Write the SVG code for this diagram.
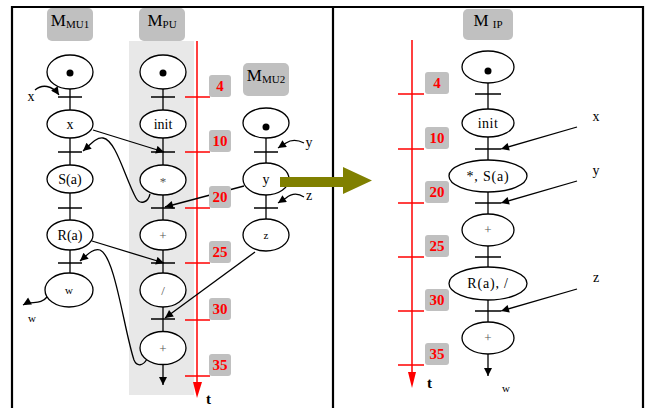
<svg xmlns="http://www.w3.org/2000/svg" width="652" height="408" viewBox="0 0 652 408">
<defs>
<marker id="ah" viewBox="0 0 10 10" refX="10" refY="5" markerWidth="10" markerHeight="8" markerUnits="userSpaceOnUse" orient="auto"><path d="M0,0 L10,5 L0,10 z" fill="#000"/></marker>
<style>
.el{fill:#fff;stroke:#000;stroke-width:1.3}
.ln{stroke:#000;stroke-width:1.3;fill:none}
.bar{stroke:#000;stroke-width:1.5}
.lab{font-family:"Liberation Serif",serif;font-size:14px;fill:#000;text-anchor:middle}
.op{font-family:"Liberation Serif",serif;font-size:13px;fill:#555;text-anchor:middle}
.sm{font-family:"Liberation Serif",serif;font-size:11px;fill:#000;text-anchor:middle}
.hd{fill:#c0c0c0}
.ml{font-family:"Liberation Serif",serif;font-size:17px;fill:#000;text-anchor:middle}
.num{font-family:"Liberation Serif",serif;font-size:15px;font-weight:bold;fill:#f00;text-anchor:middle}
.red{stroke:#f00;stroke-width:1.5}
.tt{font-family:"Liberation Serif",serif;font-size:15px;font-weight:bold;fill:#000}
.frame{stroke:#000;stroke-width:2.2}
</style>
</defs>
<rect width="652" height="408" fill="#fff"/>
<rect x="129" y="41" width="65" height="354" fill="#e8e8e8"/>
<g id="frame">
<line class="frame" x1="12" y1="7" x2="644" y2="7"/>
<line class="frame" x1="12" y1="6" x2="12" y2="408"/>
<line class="frame" x1="333" y1="6" x2="333" y2="408"/>
<line class="frame" x1="643" y1="6" x2="643" y2="408"/>
</g>
<g id="timeline-left">
<line class="red" x1="197" y1="41" x2="197" y2="385"/>
<path d="M193,382 L202,382 L197,398 z" fill="#f00"/>
<line class="red" x1="185" y1="97" x2="210" y2="97"/>
<line class="red" x1="185" y1="152" x2="210" y2="152"/>
<line class="red" x1="185" y1="208" x2="210" y2="208"/>
<line class="red" x1="185" y1="263" x2="210" y2="263"/>
<line class="red" x1="185" y1="320" x2="210" y2="320"/>
<line class="red" x1="185" y1="376" x2="210" y2="376"/>
<text class="tt" x="206" y="404">t</text>
</g>
<g id="timeline-right">
<line class="red" x1="412" y1="40" x2="412" y2="375"/>
<path d="M408,372 L416,372 L412,388 z" fill="#f00"/>
<line class="red" x1="398" y1="94" x2="424" y2="94"/>
<line class="red" x1="398" y1="149" x2="424" y2="149"/>
<line class="red" x1="398" y1="203" x2="424" y2="203"/>
<line class="red" x1="398" y1="257" x2="424" y2="257"/>
<line class="red" x1="398" y1="311" x2="424" y2="311"/>
<line class="red" x1="398" y1="365" x2="424" y2="365"/>
<text class="tt" x="427" y="388">t</text>
</g>
<g id="connectors">
<line class="ln" x1="70" y1="89" x2="70" y2="110"/>
<line class="ln" x1="70" y1="138" x2="70" y2="165"/>
<line class="ln" x1="70" y1="193" x2="70" y2="220"/>
<line class="ln" x1="70" y1="250" x2="70" y2="273"/>
<line class="bar" x1="58" y1="97" x2="82" y2="97"/>
<line class="bar" x1="58" y1="152" x2="82" y2="152"/>
<line class="bar" x1="58" y1="208" x2="82" y2="208"/>
<line class="bar" x1="58" y1="263" x2="82" y2="263"/>
<line class="ln" x1="163" y1="89" x2="163" y2="110"/>
<line class="ln" x1="163" y1="138" x2="163" y2="165"/>
<line class="ln" x1="163" y1="195" x2="163" y2="220"/>
<line class="ln" x1="163" y1="250" x2="163" y2="273"/>
<line class="ln" x1="163" y1="307" x2="163" y2="332"/>
<line class="ln" x1="163" y1="365" x2="163" y2="385" marker-end="url(#ah)"/>
<line class="bar" x1="151" y1="97" x2="175" y2="97"/>
<line class="bar" x1="151" y1="152" x2="175" y2="152"/>
<line class="bar" x1="151" y1="208" x2="175" y2="208"/>
<line class="bar" x1="151" y1="263" x2="175" y2="263"/>
<line class="bar" x1="151" y1="319" x2="175" y2="319"/>
<line class="ln" x1="266" y1="138" x2="266" y2="163"/>
<line class="ln" x1="266" y1="195" x2="266" y2="219"/>
<line class="bar" x1="254" y1="152" x2="278" y2="152"/>
<line class="bar" x1="254" y1="208" x2="278" y2="208"/>
<line class="ln" x1="93" y1="130" x2="164" y2="152" marker-end="url(#ah)"/>
<line class="ln" x1="92" y1="241" x2="164" y2="263" marker-end="url(#ah)"/>
<line class="ln" x1="244" y1="186" x2="165" y2="207" marker-end="url(#ah)"/>
<line class="ln" x1="255" y1="252" x2="165" y2="318" marker-end="url(#ah)"/>
<path class="ln" d="M150,194 C148,203 140,205 136,198 C125,178 116,140 103,138 C96,137 90,145 83,151" marker-end="url(#ah)"/>
<path class="ln" d="M147,359 C143,366 137,367 134,360 C124,330 115,256 100,250 C93,248 87,255 80,261" marker-end="url(#ah)"/>
<path class="ln" d="M35,90 C42,84 52,85 59,95" marker-end="url(#ah)"/>
<path class="ln" d="M48,296 C40,306 32,300 23,305" marker-end="url(#ah)"/>
<path class="ln" d="M304,143 C298,140 292,139 286,143 C283,145 281,146 278,148" marker-end="url(#ah)"/>
<path class="ln" d="M304,197 C298,193 292,193 286,198 C283,200 281,201 278,203" marker-end="url(#ah)"/>
<line class="ln" x1="488" y1="83" x2="488" y2="109"/>
<line class="ln" x1="488" y1="137" x2="488" y2="160"/>
<line class="ln" x1="488" y1="192" x2="488" y2="214"/>
<line class="ln" x1="488" y1="246" x2="488" y2="267"/>
<line class="ln" x1="488" y1="300" x2="488" y2="322"/>
<line class="ln" x1="488" y1="354" x2="488" y2="376" marker-end="url(#ah)"/>
<line class="bar" x1="475" y1="94" x2="501" y2="94"/>
<line class="bar" x1="475" y1="149" x2="501" y2="149"/>
<line class="bar" x1="475" y1="203" x2="501" y2="203"/>
<line class="bar" x1="475" y1="257" x2="501" y2="257"/>
<line class="bar" x1="475" y1="311" x2="501" y2="311"/>
<line class="ln" x1="577" y1="127" x2="501" y2="149" marker-end="url(#ah)"/>
<line class="ln" x1="577" y1="181" x2="501" y2="203" marker-end="url(#ah)"/>
<line class="ln" x1="577" y1="289" x2="501" y2="311" marker-end="url(#ah)"/>
</g>
<g id="labels-left">
<rect class="hd" x="47" y="8" width="46" height="33" rx="5"/>
<text class="ml" x="70" y="26">M<tspan font-size="11" dy="2">MU1</tspan></text>
<rect class="hd" x="139" y="8" width="46" height="33" rx="5"/>
<text class="ml" x="162" y="26">M<tspan font-size="11" dy="2">PU</tspan></text>
<rect class="hd" x="243" y="63" width="46" height="33" rx="5"/>
<text class="ml" x="266" y="81">M<tspan font-size="11" dy="2">MU2</tspan></text>
</g>
<g id="numbers-left">
<rect class="hd" x="209" y="75" width="22" height="22" rx="3"/><text class="num" x="220" y="91">4</text>
<rect class="hd" x="209" y="130" width="22" height="22" rx="3"/><text class="num" x="220" y="146">10</text>
<rect class="hd" x="209" y="186" width="22" height="22" rx="3"/><text class="num" x="220" y="202">20</text>
<rect class="hd" x="209" y="241" width="22" height="22" rx="3"/><text class="num" x="220" y="257">25</text>
<rect class="hd" x="209" y="298" width="22" height="22" rx="3"/><text class="num" x="220" y="314">30</text>
<rect class="hd" x="209" y="354" width="22" height="22" rx="3"/><text class="num" x="220" y="370">35</text>
</g>
<g id="numbers-right">
<rect class="hd" x="425" y="72" width="24" height="22" rx="3"/><text class="num" x="437" y="88">4</text>
<rect class="hd" x="425" y="127" width="24" height="22" rx="3"/><text class="num" x="437" y="143">10</text>
<rect class="hd" x="425" y="181" width="24" height="22" rx="3"/><text class="num" x="437" y="197">20</text>
<rect class="hd" x="425" y="235" width="24" height="22" rx="3"/><text class="num" x="437" y="251">25</text>
<rect class="hd" x="425" y="289" width="24" height="22" rx="3"/><text class="num" x="437" y="305">30</text>
<rect class="hd" x="425" y="343" width="24" height="22" rx="3"/><text class="num" x="437" y="359">35</text>
</g>
<g id="mu1-dot"><ellipse class="el" cx="70" cy="72" rx="23" ry="17"/><circle cx="70" cy="73" r="3.5"/></g>
<g id="mu1-x"><ellipse class="el" cx="70" cy="124" rx="23" ry="14"/><text class="lab" x="70" y="129">x</text></g>
<g id="mu1-sa"><ellipse class="el" cx="70" cy="179" rx="23" ry="14"/><text class="lab" x="70" y="184">S(a)</text></g>
<g id="mu1-ra"><ellipse class="el" cx="70" cy="235" rx="23" ry="15"/><text class="lab" x="70" y="240">R(a)</text></g>
<g id="mu1-w"><ellipse class="el" cx="69" cy="290" rx="24" ry="17"/><text class="sm" x="69" y="294">w</text></g>
<g id="pu-dot"><ellipse class="el" cx="163" cy="72" rx="23" ry="17"/><circle cx="163" cy="73" r="3.5"/></g>
<g id="pu-init"><ellipse class="el" cx="163" cy="124" rx="23" ry="14"/><text class="lab" x="163" y="129">init</text></g>
<g id="pu-mul"><ellipse class="el" cx="163" cy="180" rx="23" ry="15"/><text class="op" x="163" y="186">*</text></g>
<g id="pu-add1"><ellipse class="el" cx="163" cy="235" rx="23" ry="15"/><text class="op" x="163" y="240">+</text></g>
<g id="pu-div"><ellipse class="el" cx="163" cy="290" rx="23" ry="17"/><text class="op" x="163" y="295">/</text></g>
<g id="pu-add2"><ellipse class="el" cx="163" cy="348" rx="23" ry="16.5"/><text class="op" x="163" y="353">+</text></g>
<g id="mu2-dot"><ellipse class="el" cx="266" cy="123" rx="23" ry="15"/><circle cx="266" cy="127" r="3.5"/></g>
<g id="mu2-y"><ellipse class="el" cx="266" cy="179" rx="23" ry="16"/><text class="lab" x="266" y="184">y</text></g>
<g id="mu2-z"><ellipse class="el" cx="266" cy="235" rx="23" ry="16"/><text class="sm" x="266" y="239">z</text></g>
<g id="io-left">
<text class="lab" x="31" y="101">x</text>
<text class="sm" x="32" y="322">w</text>
<text class="lab" x="309" y="147">y</text>
<text class="lab" x="309" y="200">z</text>
</g>
<g id="big-arrow"><path d="M280,177 L343,177 L343,167 L372,180.5 L343,194 L343,187 L280,187 z" fill="#808000"/></g>
<g id="labels-right">
<rect class="hd" x="463" y="9" width="50" height="31" rx="5"/>
<text class="ml" x="488" y="26">M <tspan font-size="11" dy="2">IP</tspan></text>
</g>
<g id="ip-dot"><ellipse class="el" cx="488" cy="67" rx="26" ry="16"/><circle cx="488" cy="71" r="3.5"/></g>
<g id="ip-init"><ellipse class="el" cx="488" cy="123" rx="26" ry="14"/><text class="lab" x="488" y="128" letter-spacing="0.5">init</text></g>
<g id="ip-mul-sa"><ellipse class="el" cx="488" cy="176" rx="39" ry="16"/><text class="lab" x="488" y="181" letter-spacing="0.8">*, S(a)</text></g>
<g id="ip-add1"><ellipse class="el" cx="488" cy="230" rx="26" ry="16"/><text class="op" x="488" y="234">+</text></g>
<g id="ip-ra-div"><ellipse class="el" cx="488" cy="283.5" rx="39" ry="16.5"/><text class="lab" x="488" y="288" letter-spacing="0.8">R(a), /</text></g>
<g id="ip-add2"><ellipse class="el" cx="488" cy="338" rx="26" ry="16"/><text class="op" x="488" y="342">+</text></g>
<g id="io-right">
<text class="lab" x="596" y="121">x</text>
<text class="lab" x="596" y="175">y</text>
<text class="lab" x="596" y="282">z</text>
<text class="sm" x="506" y="392">w</text>
</g>
</svg>
